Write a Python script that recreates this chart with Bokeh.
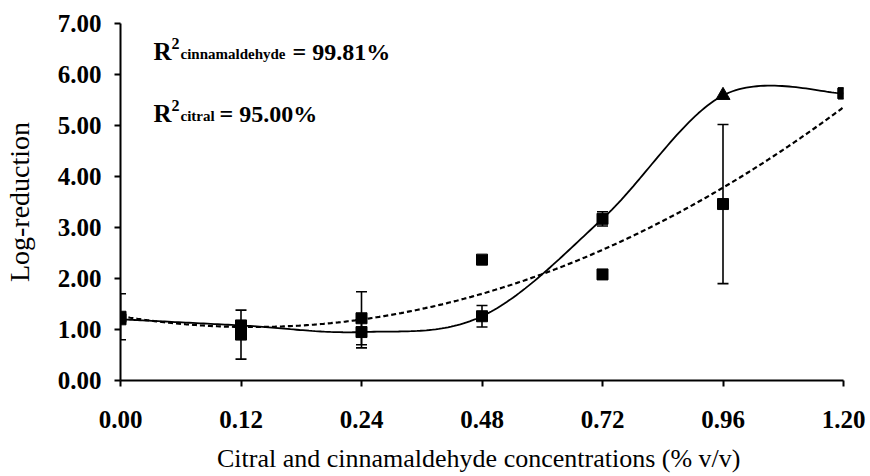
import numpy as np
from bokeh.plotting import figure
from bokeh.models import (ColumnDataSource, FixedTicker, PrintfTickFormatter,
                          Whisker, TeeHead, Label)
from bokeh.embed import file_html
from bokeh.resources import INLINE

# ---------------- data ----------------
x_labels = ["0.00", "0.12", "0.24", "0.48", "0.72", "0.96", "1.20"]
cinnamaldehyde = [1.20, 1.08, 0.95, 1.26, 3.17, 5.59, 5.63]
cinnamaldehyde_err = [0.00, 0.00, 0.31, 0.21, 0.14, 0.00, 0.00]
citral = [1.25, 0.90, 1.22, 2.37, 2.08, 3.46, 5.63]
citral_err = [0.45, 0.48, 0.52, 0.05, 0.05, 1.56, 0.00]
r2_cinnamaldehyde = "99.81%"
r2_citral = "95.00%"
x_title = "Citral and  cinnamaldehyde concentrations (% v/v)"
y_title = "Log-reduction"
citral_fit_degree = 2

# ---------------- styles ----------------
cinn_markers = ["square", "square", "square", "square", "square", "triangle", "square"]
cinn_sizes = [11, 11, 11, 11, 11, 14, 11]
SERIF = "Liberation Serif"

pos = list(range(len(x_labels)))

p = figure(width=870, height=476, output_backend="svg", toolbar_location=None,
           x_range=(0, len(x_labels) - 1), y_range=(0, 7),
           min_border_left=120, min_border_right=27, min_border_top=23,
           min_border_bottom=96)
p.outline_line_color = None
p.xgrid.visible = False
p.ygrid.visible = False
p.background_fill_color = "white"


def smooth_line(xs, ys, n=40):
    """Spreadsheet-style smoothed line (cubic Bezier, Catmull-Rom control points)."""
    P = np.column_stack([np.asarray(xs, float), np.asarray(ys, float)])
    m = len(P)
    out = []
    for i in range(m - 1):
        p0 = P[i - 1] if i > 0 else P[i]
        p1, p2 = P[i], P[i + 1]
        p3 = P[i + 2] if i + 2 < m else P[i + 1]
        c1 = p1 + (p2 - p0) / 6.0
        c2 = p2 - (p3 - p1) / 6.0
        s = np.linspace(0, 1, n)[:, None]
        seg = ((1 - s) ** 3) * p1 + 3 * ((1 - s) ** 2) * s * c1 + 3 * (1 - s) * s ** 2 * c2 + s ** 3 * p2
        out.append(seg if i == 0 else seg[1:])
    out = np.vstack(out)
    return out[:, 0], out[:, 1]


# solid smoothed line through cinnamaldehyde
sx, sy = smooth_line(pos, cinnamaldehyde)
p.line(sx, sy, line_color="black", line_width=1.8)

# dashed polynomial trend line of citral
tt = np.linspace(0, len(x_labels) - 1, 300)
tf = np.polyfit(pos, citral, citral_fit_degree)
p.line(tt, np.polyval(tf, tt), line_color="black", line_width=2.2, line_dash="5 3")


# error bars
def add_err(vals, errs):
    idx = [i for i in range(len(vals)) if errs[i] > 0]
    src = ColumnDataSource(dict(x=[pos[i] for i in idx],
                                upper=[vals[i] + errs[i] for i in idx],
                                lower=[vals[i] - errs[i] for i in idx]))
    w = Whisker(source=src, base="x", upper="upper", lower="lower",
                line_color="black", line_width=1.6,
                upper_head=TeeHead(size=11, line_color="black", line_width=1.6),
                lower_head=TeeHead(size=11, line_color="black", line_width=1.6))
    p.add_layout(w)


add_err(cinnamaldehyde, cinnamaldehyde_err)
add_err(citral, citral_err)

# markers
p.scatter(pos, citral, marker="square", size=11, color="black")
src_c = ColumnDataSource(dict(x=pos, y=cinnamaldehyde, m=cinn_markers, s=cinn_sizes))
p.scatter("x", "y", marker="m", size="s", color="black", source=src_c)

# axes
for ax in (p.xaxis, p.yaxis):
    ax.axis_line_width = 2
    ax.axis_line_color = "black"
    ax.major_tick_line_width = 2
    ax.major_tick_line_color = "black"
    ax.major_tick_out = 6
    ax.major_tick_in = 0
    ax.minor_tick_line_color = None
    ax.major_label_text_font = SERIF
    ax.major_label_text_font_style = "bold"
    ax.major_label_text_color = "black"
    ax.major_label_text_font_size = "25px"
    ax.axis_label_text_font = SERIF
    ax.axis_label_text_font_style = "normal"
    ax.axis_label_text_color = "black"

p.xaxis.ticker = FixedTicker(ticks=pos)
p.xaxis.major_label_overrides = {i: lab for i, lab in enumerate(x_labels)}
p.xaxis.major_label_standoff = 24
p.xaxis.axis_label = x_title
p.xaxis.axis_label_text_font_size = "26px"
p.xaxis.axis_label_standoff = 13

p.yaxis.ticker = FixedTicker(ticks=list(range(0, 8)))
p.yaxis.formatter = PrintfTickFormatter(format="%.2f")
p.yaxis.major_label_standoff = 13
p.yaxis.axis_label = y_title
p.yaxis.axis_label_text_font_size = "28px"
p.yaxis.axis_label_standoff = 20

# R^2 annotations (anchor in data space, pieces offset in pixels)
ax0 = 0.274


def r2_label(y_anchor, sub, val, eq_off):
    common = dict(x=ax0, y=y_anchor, text_font=SERIF, text_font_style="bold",
                  text_color="black", text_baseline="alphabetic")
    p.add_layout(Label(text="R", text_font_size="25px", **common))
    p.add_layout(Label(text="2", text_font_size="16px", x_offset=18, y_offset=8, **common))
    p.add_layout(Label(text=sub, text_font_size="15px", x_offset=27, y_offset=-2, **common))
    p.add_layout(Label(text="= " + val, text_font_size="24px", x_offset=eq_off, **common))


r2_label(6.45, "cinnamaldehyde", r2_cinnamaldehyde, 139)
r2_label(5.235, "citral", r2_citral, 66)

open("out.html", "w").write(file_html(p, INLINE))
